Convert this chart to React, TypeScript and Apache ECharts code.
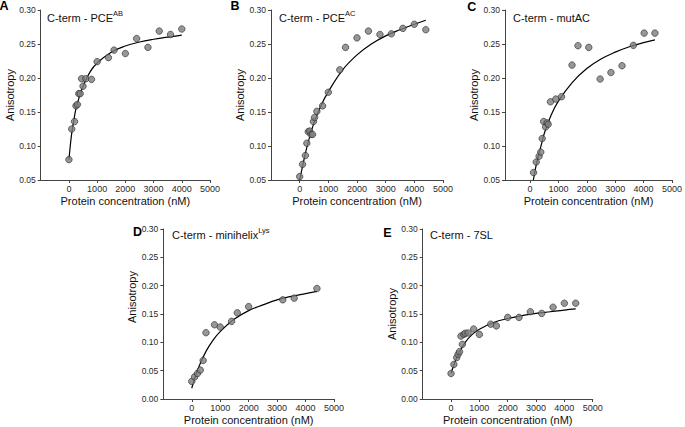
import React, { useEffect, useRef } from "react";
import * as echarts from "echarts";

// ---------- data ----------
const xTickValues = [0, 1000, 2000, 3000, 4000, 5000];
const xAxisTitle = "Protein concentration (nM)";
const yAxisTitle = "Anisotropy";

// Panel A : C-term - PCE^AB
const aX = [0, 100, 200, 250, 300, 350, 400, 450, 500, 600, 800, 1000, 1400, 1600, 2000, 2400, 2800, 3200, 3600, 4000];
const aY = [0.080, 0.125, 0.136, 0.159, 0.161, 0.177, 0.177, 0.199, 0.188, 0.199, 0.198, 0.224, 0.230, 0.241, 0.236, 0.258, 0.245, 0.269, 0.264, 0.272];
const aFitX = [0, 50, 100, 175, 250, 375, 500, 750, 1000, 1500, 2000, 2500, 3000, 3500, 4000];
const aFitY = [0.080, 0.101, 0.119, 0.138, 0.155, 0.173, 0.188, 0.209, 0.222, 0.238, 0.247, 0.253, 0.257, 0.260, 0.263];

// Panel B : C-term - PCE^AC
const bX = [0, 100, 200, 250, 300, 350, 400, 450, 480, 520, 600, 800, 1000, 1400, 1600, 2000, 2400, 2800, 3200, 3600, 4000, 4400];
const bY = [0.055, 0.073, 0.086, 0.104, 0.121, 0.122, 0.117, 0.117, 0.136, 0.142, 0.151, 0.159, 0.179, 0.212, 0.245, 0.259, 0.269, 0.264, 0.265, 0.273, 0.279, 0.271];
const bFitX = [0, 100, 250, 500, 750, 1000, 1500, 2000, 2500, 3000, 3500, 4000, 4400];
const bFitY = [0.050, 0.070, 0.098, 0.134, 0.160, 0.180, 0.212, 0.234, 0.250, 0.262, 0.271, 0.279, 0.285];

// Panel C : C-term - mutAC
const cX = [125, 220, 320, 380, 430, 480, 550, 600, 640, 720, 910, 1110, 1480, 1690, 2070, 2470, 2850, 3240, 3640, 4020, 4400];
const cY = [0.061, 0.0765, 0.085, 0.091, 0.111, 0.136, 0.128, 0.134, 0.132, 0.165, 0.169, 0.1725, 0.219, 0.2475, 0.245, 0.1985, 0.208, 0.218, 0.248, 0.266, 0.266];
const cFitX = [120, 250, 400, 500, 750, 1000, 1500, 2000, 2500, 3000, 3500, 4000, 4400];
const cFitY = [0.050, 0.078, 0.102, 0.118, 0.146, 0.166, 0.194, 0.214, 0.228, 0.238, 0.246, 0.252, 0.256];

// Panel D : C-term - minihelix^Lys
const dX = [0, 100, 200, 300, 400, 500, 800, 1000, 1400, 1600, 2000, 3200, 3600, 4400];
const dY = [0.031, 0.039, 0.045, 0.051, 0.068, 0.117, 0.131, 0.127, 0.137, 0.152, 0.163, 0.175, 0.178, 0.195];
const dFitX = [0, 100, 250, 500, 750, 1000, 1500, 2000, 2500, 3000, 3500, 4000, 4400];
const dFitY = [0.019, 0.036, 0.057, 0.084, 0.104, 0.119, 0.141, 0.156, 0.166, 0.175, 0.181, 0.186, 0.190];

// Panel E : C-term - 7SL
const eX = [0, 100, 200, 250, 300, 350, 400, 450, 500, 600, 800, 1000, 1400, 1600, 2000, 2400, 2800, 3200, 3600, 4000, 4400];
const eY = [0.045, 0.061, 0.073, 0.079, 0.0835, 0.111, 0.0965, 0.114, 0.116, 0.1165, 0.1235, 0.114, 0.132, 0.129, 0.144, 0.144, 0.154, 0.151, 0.162, 0.169, 0.169];
const eFitX = [0, 100, 250, 500, 750, 1000, 1500, 2000, 2500, 3000, 3500, 4000, 4400];
const eFitY = [0.045, 0.060, 0.078, 0.100, 0.114, 0.123, 0.135, 0.142, 0.147, 0.151, 0.154, 0.157, 0.159];

const letters = ["A", "B", "C", "D", "E"];
const titleMain = ["C-term - PCE", "C-term - PCE", "C-term - mutAC", "C-term - minihelix", "C-term - 7SL"];
const titleSup = ["AB", "AC", "", "Lys", ""];
const yMins = [0.05, 0.05, 0.05, 0, 0];

// ---------- layout (pixels) ----------
const layout = [
  { left: 40.7, top: 10, width: 169.3, height: 170, xMin: -1000, letter: [4, 5.5], title: [47, 16.5], yShift: 0 },
  { left: 271, top: 10, width: 172, height: 170, xMin: -1000, letter: [235, 6.2], title: [279, 16.5], yShift: 0 },
  { left: 505, top: 10, width: 171.5, height: 170, xMin: -880, letter: [471.7, 6.7], title: [513, 16.5], yShift: 0 },
  { left: 163.3, top: 229, width: 170.7, height: 170, xMin: -1000, letter: [137.5, 231.7], title: [172, 233.7], yShift: 34 },
  { left: 422.7, top: 229, width: 170, height: 170, xMin: -1000, letter: [387.5, 232.7], title: [430, 233.3], yShift: 0 },
];

const FONT = "'Liberation Sans', Arial, Helvetica, sans-serif";
const AXIS_COLOR = "#444";
const LABEL_COLOR = "#2a2a2a";

const pts = [
  [aX, aY],
  [bX, bY],
  [cX, cY],
  [dX, dY],
  [eX, eY],
];
const fits = [
  [aFitX, aFitY],
  [bFitX, bFitY],
  [cFitX, cFitY],
  [dFitX, dFitY],
  [eFitX, eFitY],
];

const zip = (xs: number[], ys: number[]) => xs.map((x, i) => [x, ys[i]]);

export default function App() {
  const ref = useRef<HTMLDivElement>(null);

  useEffect(() => {
    document.body.style.margin = "0";
    if (!ref.current) return;
    const chart = echarts.init(ref.current, undefined, { renderer: "svg" });

    const grid = layout.map((l) => ({ left: l.left, top: l.top, width: l.width, height: l.height, containLabel: false }));

    const xAxis = layout.map((l, i) => ({
      type: "value",
      gridIndex: i,
      min: l.xMin,
      max: 5000,
      axisLine: { show: true, onZero: false, lineStyle: { color: AXIS_COLOR, width: 1 } },
      axisTick: { show: true, length: 3, customValues: xTickValues, lineStyle: { color: AXIS_COLOR, width: 1 } },
      axisLabel: {
        customValues: xTickValues,
        fontSize: 9,
        margin: 4,
        color: LABEL_COLOR,
        fontFamily: FONT,
        formatter: (v: number) => String(v),
      },
      splitLine: { show: false },
      name: xAxisTitle,
      nameLocation: "middle",
      nameGap: 15,
      nameTextStyle: { fontSize: 11, color: "#111", fontFamily: FONT },
    }));

    const yAxis = layout.map((l, i) => ({
      type: "value",
      gridIndex: i,
      min: yMins[i],
      max: 0.3,
      interval: 0.05,
      axisLine: { show: true, onZero: false, lineStyle: { color: AXIS_COLOR, width: 1 } },
      axisTick: { show: true, length: 3, lineStyle: { color: AXIS_COLOR, width: 1 } },
      axisLabel: {
        fontSize: 8.5,
        margin: 5,
        color: LABEL_COLOR,
        fontFamily: FONT,
        formatter: (v: number) => v.toFixed(2),
      },
      splitLine: { show: false },
      name: yAxisTitle,
      nameLocation: "middle",
      nameGap: 22,
      nameTextStyle: {
        fontSize: 11,
        color: "#111",
        fontFamily: FONT,
        padding: l.yShift ? [0, 0, 0, l.yShift] : 0,
      },
    }));

    const series: any[] = [];
    layout.forEach((_, i) => {
      series.push({
        type: "line",
        xAxisIndex: i,
        yAxisIndex: i,
        data: zip(fits[i][0], fits[i][1]),
        smooth: 0.4,
        showSymbol: false,
        symbol: "none",
        lineStyle: { color: "#000", width: 1.2 },
        z: 2,
        silent: true,
      });
      series.push({
        type: "scatter",
        xAxisIndex: i,
        yAxisIndex: i,
        data: zip(pts[i][0], pts[i][1]),
        symbol: "circle",
        symbolSize: 6.5,
        itemStyle: { color: "#7d7d7d", borderColor: "#2b2b2b", borderWidth: 0.8 },
        z: 3,
        silent: true,
      });
    });

    const graphic: any[] = [];
    layout.forEach((l, i) => {
      graphic.push({
        type: "text",
        x: l.letter[0],
        y: l.letter[1],
        style: {
          text: letters[i],
          fontSize: 12.5,
          fontWeight: "bold",
          fontFamily: FONT,
          fill: "#000",
          align: "center",
          verticalAlign: "middle",
        },
      });
      const txt = titleSup[i] ? `{b|${titleMain[i]}}{s|${titleSup[i]}}` : `{b|${titleMain[i]}}`;
      graphic.push({
        type: "text",
        x: l.title[0],
        y: l.title[1],
        style: {
          text: txt,
          align: "left",
          verticalAlign: "middle",
          rich: {
            b: { fontSize: 11, lineHeight: 14, verticalAlign: "bottom", fontFamily: FONT, fill: "#111", color: "#111" },
            s: { fontSize: 7.5, lineHeight: 8, verticalAlign: "top", fontFamily: FONT, fill: "#111", color: "#111" },
          },
        },
      });
    });

    chart.setOption({
      animation: false,
      backgroundColor: "#fff",
      textStyle: { fontFamily: FONT },
      grid,
      xAxis,
      yAxis,
      series,
      graphic,
    });

    return () => chart.dispose();
  }, []);

  return <div ref={ref} style={{ width: 685, height: 427 }} />;
}
